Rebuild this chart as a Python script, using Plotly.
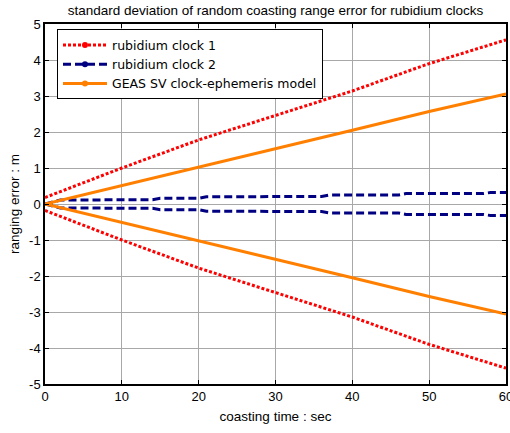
import plotly.graph_objects as go

# coasting time samples (s)
t_rb1 = [0, 10, 20, 30, 40, 50, 60]
sigma_rb1 = [0.18, 1.0, 1.78, 2.47, 3.14, 3.9, 4.56]

# rubidium clock 2: stepped growth
t_rb2 = [0, 2, 14, 15, 20, 21, 36, 37, 46, 47, 57, 58, 60]
sigma_rb2 = [0.0, 0.11, 0.12, 0.16, 0.16, 0.20, 0.21, 0.25, 0.25, 0.29, 0.29, 0.32, 0.32]

t_geas = [0, 10, 20, 30, 40, 50, 60]
sigma_geas = [0.0, 0.51, 1.02, 1.52, 2.05, 2.57, 3.06]

x_ticks = [0, 10, 20, 30, 40, 50, 60]
y_ticks = [-5, -4, -3, -2, -1, 0, 1, 2, 3, 4, 5]
y_tick_text = ["-5", "-4", "-3", "-2", "-1", "0", "1", "2", "3", "4", "5"]

series = [
    ("rubidium clock 1", t_rb1, sigma_rb1, "#ff0000", "3px,2px"),
    ("rubidium clock 2", t_rb2, sigma_rb2, "#000080", "8px,4px"),
    ("GEAS SV clock-ephemeris model", t_geas, sigma_geas, "#ff8000", "solid"),
]

FONT = "Liberation Sans, Arial, sans-serif"
LEGEND_FONT = "DejaVu Sans, Liberation Sans, sans-serif"

fig = go.Figure()

for name, t, s, color, dash in series:
    for sign in (1, -1):
        fig.add_trace(go.Scatter(
            x=t, y=[sign * v for v in s], mode="lines",
            line=dict(color=color, width=3, dash=dash),
            showlegend=False, hoverinfo="skip",
        ))

# legend entries: line style with a dot marker
for name, t, s, color, dash in series:
    fig.add_trace(go.Scatter(
        x=[None], y=[None], mode="lines+markers", name=name,
        line=dict(color=color, width=3, dash=dash),
        marker=dict(color=color, size=6),
    ))

axis_common = dict(
    showline=True, linecolor="black", linewidth=1.5, mirror="allticks",
    ticks="inside", ticklen=4, tickcolor="black",
    showgrid=True, gridcolor="#a8a8a8", gridwidth=1,
    zeroline=False, ticklabeloverflow="allow", automargin=False,
    tickfont=dict(family=FONT, size=13, color="black"),
)

fig.update_layout(
    width=510, height=433,
    margin=dict(l=45, r=4, t=24, b=49),
    paper_bgcolor="white", plot_bgcolor="white",
    title=dict(
        text="standard deviation of random coasting range error for rubidium clocks",
        font=dict(family=FONT, size=13.5, color="black"),
        x=(45 + 506) / 2 / 510, xanchor="center", y=1 - 10 / 433, yanchor="middle",
    ),
    xaxis=dict(
        range=[0, 60], tickvals=x_ticks,
        title=dict(text="coasting time : sec", font=dict(family=FONT, size=13.5, color="black"), standoff=8),
        **axis_common,
    ),
    yaxis=dict(
        range=[-5, 5], tickvals=y_ticks, ticktext=y_tick_text,
        title=dict(text="ranging error : m", font=dict(family=FONT, size=13.5, color="black"), standoff=6),
        **axis_common,
    ),
    legend=dict(
        x=0.026, y=0.985, xanchor="left", yanchor="top",
        bgcolor="white", bordercolor="black", borderwidth=1,
        font=dict(family=LEGEND_FONT, size=12.5, color="black"),
        itemwidth=44, tracegroupgap=0,
    ),
)

fig.write_html("out.html")
